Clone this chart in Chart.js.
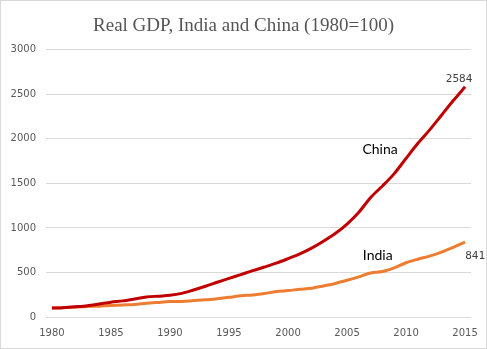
<!DOCTYPE html>
<html>
<head>
<meta charset="utf-8">
<script src="https://cdn.jsdelivr.net/npm/chart.js@4/dist/chart.umd.min.js"></script>
<style>
    html, body { margin: 0; padding: 0; background: #fff; }
    .wrap { position: relative; width: 485px; height: 347px; border: 1px solid #d9d9d9; }
</style>
</head>
<body>
<div class="wrap"><canvas id="gdpChart"></canvas></div>
<script>
// Real GDP index, 1980 = 100
const years = [];
for (let y = 1980; y <= 2015; y++) years.push(String(y));

const chinaGdp = [100, 105, 115, 127, 146, 166, 181, 202, 224, 234,
    243, 265, 303, 345, 390, 433, 476, 520, 561, 604,
    655, 709, 774, 851, 937, 1043, 1176, 1342, 1471, 1610,
    1781, 1950, 2101, 2265, 2430, 2584];

const indiaGdp = [100, 106, 110, 118, 122, 129, 135, 140, 154, 164,
    173, 175, 184, 193, 206, 221, 238, 248, 263, 286,
    297, 311, 323, 349, 377, 412, 451, 494, 510, 552,
    609, 649, 684, 728, 783, 841];

const yTicks = [0, 500, 1000, 1500, 2000, 2500, 3000];

// series names drawn on the plot
const lineLabels = [
    { text: 'China', idx: 27.8, val: 1884 },
    { text: 'India', idx: 27.6, val: 691 }
];

const labelPlugin = {
    id: 'lineLabels',
    afterDatasetsDraw(chart) {
        const ctx = chart.ctx;
        const xs = chart.scales.x, ys = chart.scales.y;
        ctx.save();
        ctx.textBaseline = 'middle';
        ctx.textAlign = 'center';
        ctx.fillStyle = '#000';
        ctx.font = '14px Lato';
        lineLabels.forEach(l => {
            const x0 = xs.getPixelForValue(Math.floor(l.idx));
            const x1 = xs.getPixelForValue(Math.floor(l.idx) + 1);
            const x = x0 + (x1 - x0) * (l.idx - Math.floor(l.idx));
            ctx.fillText(l.text, x, ys.getPixelForValue(l.val));
        });

        // end values
        ctx.font = '11px "DejaVu Sans Mono"';
        ctx.fillStyle = '#404040';
        const last = years.length - 1;
        const cp = chart.getDatasetMeta(0).data[last];
        ctx.fillText(String(chinaGdp[last]), cp.x - 6, cp.y - 8);
        const ip = chart.getDatasetMeta(1).data[last];
        ctx.fillText(String(indiaGdp[last]), ip.x + 10, ip.y + 14);
        ctx.restore();
    }
};

new Chart(document.getElementById('gdpChart'), {
    type: 'line',
    data: {
        labels: years,
        datasets: [{
            label: 'China',
            data: chinaGdp,
            borderColor: '#c00000',
            borderWidth: 3,
            pointRadius: 0,
            tension: 0.3,
            fill: false
        }, {
            label: 'India',
            data: indiaGdp,
            borderColor: '#ed7d31',
            borderWidth: 3,
            pointRadius: 0,
            tension: 0.3,
            fill: false
        }]
    },
    options: {
        responsive: true,
        maintainAspectRatio: false,
        animation: false,
        layout: { padding: { left: 0, right: 0, top: 6, bottom: 7 } },
        plugins: {
            legend: { display: false },
            tooltip: { enabled: false },
            title: {
                display: true,
                text: 'Real GDP, India and China (1980=100)',
                color: '#555',
                font: { family: 'Liberation Serif', size: 19, weight: 'normal' },
                padding: { top: 8, bottom: 12 }
            }
        },
        scales: {
            x: {
                offset: true,
                grid: { display: false },
                border: { display: false },
                ticks: {
                    autoSkip: false,
                    maxRotation: 0,
                    color: '#595959',
                    font: { family: 'DejaVu Sans', size: 10 },
                    padding: 2,
                    callback: function (v, i) { return i % 5 === 0 ? years[i] : ''; }
                }
            },
            y: {
                min: 0,
                max: 3000,
                afterBuildTicks: axis => { axis.ticks = yTicks.map(v => ({ value: v })); },
                afterFit: axis => { axis.width = 45; },
                grid: { color: '#d9d9d9', drawTicks: false },
                border: { display: false },
                ticks: {
                    color: '#595959',
                    font: { family: 'DejaVu Sans', size: 10 },
                    padding: 10,
                    callback: v => String(v)
                }
            },
            // empty right margin so the title stays centred on the page
            yRight: {
                position: 'right',
                min: 0,
                max: 3000,
                afterFit: axis => { axis.width = 15; },
                grid: { display: false },
                border: { display: false },
                ticks: { display: false }
            }
        }
    },
    plugins: [labelPlugin]
});
</script>
</body>
</html>
